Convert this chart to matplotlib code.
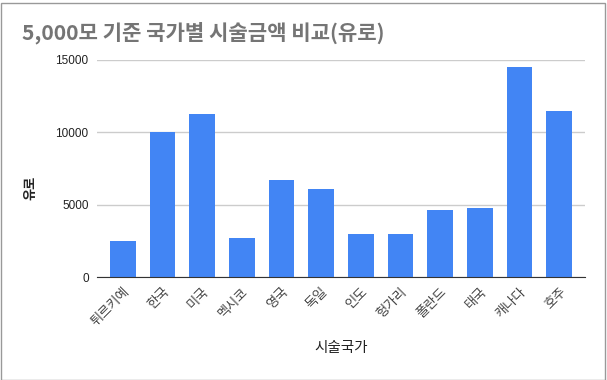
import matplotlib.pyplot as plt
from matplotlib.patches import Rectangle

plt.rcParams['font.family'] = ['Noto Sans CJK KR', 'DejaVu Sans']

countries = ["튀르키예", "한국", "미국", "멕시코", "영국", "독일",
             "인도", "헝가리", "폴란드", "태국", "캐나다", "호주"]
prices = [2500, 10000, 11300, 2700, 6700, 6100,
          3000, 3000, 4650, 4800, 14500, 11500]
yticks = [0, 5000, 10000, 15000]

fig = plt.figure(figsize=(6.07, 3.80), dpi=100)
ax = fig.add_axes([97 / 607, 1 - 277 / 380, 488 / 607, 217 / 380])

x = range(len(countries))
ax.bar(x, prices, width=0.65, color="#4285F4", zorder=3)

ax.set_xlim(-0.65, len(countries) - 0.35)
ax.set_ylim(0, 15000)
ax.set_yticks(yticks)
ax.set_yticklabels([str(v) for v in yticks], fontsize=8.5, color="#222222",
                   family=['Liberation Sans', 'DejaVu Sans'])
ax.set_xticks(list(x))
ax.set_xticklabels(countries, rotation=45, ha="right", rotation_mode="anchor",
                   fontsize=9.5, color="#444444")
ax.tick_params(axis="both", length=0, pad=6)

ax.grid(axis="y", color="#cccccc", linewidth=1, zorder=0)
for side in ["top", "right", "left"]:
    ax.spines[side].set_visible(False)
ax.spines["bottom"].set_color("#333333")
ax.spines["bottom"].set_zorder(4)

ax.set_xlabel("시술국가", fontsize=10.5, fontweight="medium", color="#222222")
ax.xaxis.set_label_coords(0.5, -(348 - 277) / 217)
ax.xaxis.label.set_va("center")
ax.set_ylabel("유로", fontsize=9.5, fontweight="bold", color="#222222")
ax.yaxis.set_label_coords(-(97 - 37) / 488, (277 - 188) / 217)

fig.text(22 / 607, 1 - 33 / 380, "5,000모 기준 국가별 시술금액 비교(유로)",
         fontsize=15.2, fontweight="bold", color="#757575", va="center", ha="left")

fig.patches.append(Rectangle((0.5 / 607, 0.5 / 380), 1 - 3 / 607, 1 - 3 / 380,
                             transform=fig.transFigure, fill=False,
                             edgecolor="#999999", linewidth=1))

fig.savefig("out.png", dpi=100)
